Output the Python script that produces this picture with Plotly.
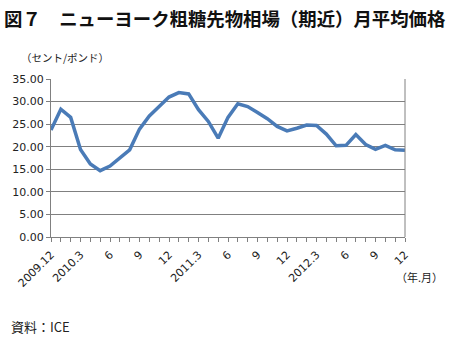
import plotly.graph_objects as go

months = ["2009.12", "2010.1", "2010.2", "2010.3", "2010.4", "2010.5", "2010.6", "2010.7", "2010.8",
          "2010.9", "2010.10", "2010.11", "2010.12", "2011.1", "2011.2", "2011.3", "2011.4", "2011.5",
          "2011.6", "2011.7", "2011.8", "2011.9", "2011.10", "2011.11", "2011.12", "2012.1", "2012.2",
          "2012.3", "2012.4", "2012.5", "2012.6", "2012.7", "2012.8", "2012.9", "2012.10", "2012.11",
          "2012.12"]
prices = [23.7, 28.3, 26.5, 19.4, 16.2, 14.7, 15.7, 17.6, 19.3,
          23.9, 26.8, 28.9, 31.0, 32.0, 31.7, 28.2, 25.6, 21.9,
          26.5, 29.5, 28.9, 27.6, 26.2, 24.5, 23.5, 24.1, 24.8,
          24.7, 22.8, 20.2, 20.3, 22.7, 20.5, 19.4, 20.3, 19.3,
          19.2]
tick_labels = ["2009.12", "", "", "2010.3", "", "", "6", "", "", "9", "", "", "12", "", "",
               "2011.3", "", "", "6", "", "", "9", "", "", "12", "", "",
               "2012.3", "", "", "6", "", "", "9", "", "", "12"]
y_ticks = [0, 5, 10, 15, 20, 25, 30, 35]

x_idx = list(range(len(months)))

fig = go.Figure()
fig.add_trace(go.Scatter(x=x_idx, y=prices, mode="lines",
                         line=dict(color="#4A7BB7", width=3.5),
                         hovertext=months))

axis_font = dict(family="DejaVu Sans", size=11, color="#222222")
fig.update_layout(
    width=452, height=338,
    margin=dict(l=49, r=47, t=79, b=101),
    paper_bgcolor="white", plot_bgcolor="white",
    showlegend=False,
    xaxis=dict(range=[0, len(months) - 1], tickmode="array", tickvals=x_idx, ticktext=tick_labels,
               tickangle=-45, ticks="outside", ticklen=4, tickcolor="#808080",
               ticklabelstandoff=2,
               showgrid=False, showline=True, linecolor="#808080", linewidth=1,
               mirror=False, zeroline=False, tickfont=dict(family="DejaVu Sans", size=11, color="#222222")),
    yaxis=dict(range=[0, 35], tickmode="array", tickvals=y_ticks,
               ticktext=[f"{v:.2f}" for v in y_ticks],
               ticks="outside", ticklen=4, tickcolor="#808080",
               showgrid=True, gridcolor="#808080", gridwidth=1,
               showline=True, linecolor="#808080", linewidth=1, zeroline=False,
               tickfont=axis_font),
)
# right border
fig.add_shape(type="line", xref="paper", yref="paper", x0=1, x1=1, y0=0, y1=1,
              line=dict(color="#808080", width=1))

jp = "Noto Sans CJK JP"
fig.add_annotation(text="<b>図７　ニューヨーク粗糖先物相場（期近）月平均価格</b>", xref="paper", yref="paper",
                   x=-49/356, y=1 + (79 - 18) / 157.5, xanchor="left", yanchor="middle", showarrow=False,
                   font=dict(family=jp, size=18.4, color="#111111"))
fig.add_annotation(text="（セント/ポンド）", xref="paper", yref="paper",
                   x=-32/356, y=1 + (79 - 58) / 157.5, xanchor="left", yanchor="middle", showarrow=False,
                   font=dict(family=jp, size=10.5, color="#222222"))
fig.add_annotation(text="（年.月）", xref="paper", yref="paper",
                   x=1 + 40/356, y=-(276 - 236.5) / 157.5, xanchor="right", yanchor="middle", showarrow=False,
                   font=dict(family=jp, size=11, color="#222222"))
fig.add_annotation(text="資料：ICE", xref="paper", yref="paper",
                   x=-42/356, y=-(326 - 236.5) / 157.5, xanchor="left", yanchor="middle", showarrow=False,
                   font=dict(family=jp, size=13, color="#222222"))

fig.write_html("out.html")
